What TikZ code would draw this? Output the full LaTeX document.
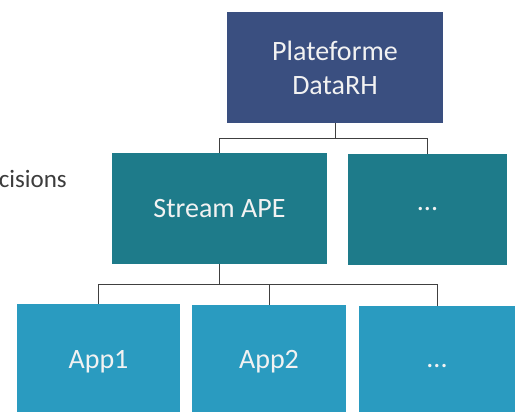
\documentclass[tikz,border=0pt]{standalone}
\usepackage{fontspec}
\setmainfont{Carlito}
\definecolor{navybox}{HTML}{3A4F80}
\definecolor{tealbox}{HTML}{1E7B8A}
\definecolor{cyanbox}{HTML}{2A9BC0}
\definecolor{txtw}{HTML}{F2F2F2}
\definecolor{txtg}{HTML}{3C3C3C}
\definecolor{linec}{HTML}{404040}
\tikzset{
  box/.style={draw=none, inner sep=0pt, align=center, text=txtw,
    font=\fontsize{28}{34}\selectfont},
  conn/.style={draw=linec, line width=1pt},
}
\begin{document}
\begin{tikzpicture}[x=1pt,y=-1pt]
\useasboundingbox (0,0) rectangle (520,412);
\clip (0,0) rectangle (520,412);
\fill[white] (0,0) rectangle (520,412);
% boxes
\node[box, fill=navybox, minimum width=216pt, minimum height=111pt] (top) at (335,67.5) {Plateforme\\DataRH};
\node[box, fill=tealbox, minimum width=215pt, minimum height=111pt] (mida) at (219.5,208.5) {Stream APE};
\node[box, fill=tealbox, minimum width=159pt, minimum height=111pt] (midb) at (427.5,209.5) {...};
\node[box, fill=cyanbox, minimum width=163pt, minimum height=120pt] (appa) at (98.5,364) {};
\node[box, fill=cyanbox, minimum width=154pt, minimum height=120pt] (appb) at (269,365) {};
\node[box, fill=cyanbox, minimum width=156pt, minimum height=120pt] (appc) at (437,366) {};
\node[box, anchor=center] (appat) at (98.5,362) {App1};
\node[box, anchor=center] (appbt) at (269,362) {App2};
\node[box, anchor=center] (appct) at (437,366) {...};
% side text
\node[anchor=base east, inner sep=0pt, text=txtg, font=\fontsize{25}{30}\selectfont] (dec) at (67,187) {cisions};
% connectors
\draw[conn] (top.south) -- ++(0,15) coordinate (bar1);
\draw[conn] (bar1) -| (mida.north);
\draw[conn] (bar1) -| (midb.north);
\draw[conn] (mida.south) -- ++(0,20) coordinate (bar2);
\draw[conn] (bar2) -| (appa.north);
\draw[conn] (bar2) -| (appb.north);
\draw[conn] (bar2) -| (appc.north);
\end{tikzpicture}
\end{document}
